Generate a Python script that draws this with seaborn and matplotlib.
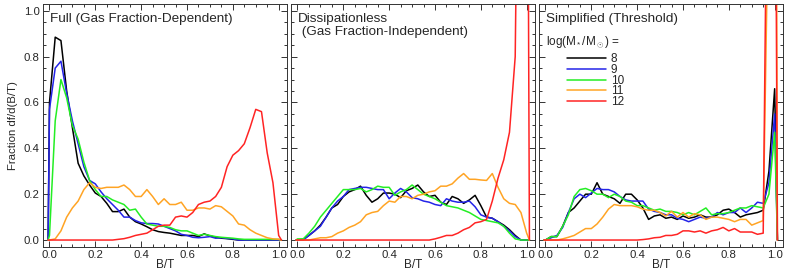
import numpy as np
import pandas as pd
import seaborn as sns
import matplotlib
matplotlib.use("Agg")
import matplotlib.pyplot as plt
from matplotlib.ticker import MultipleLocator, FormatStrFormatter

# B/T bins (0.025 wide); every curve is closed with a zero just outside [0, 1]
bt_bins = np.round(np.arange(41) * 0.025, 3)
bt_lo, bt_hi = -0.006, 1.012

masses = ["8", "9", "10", "11", "12"]
colors = ["black", "#2424e8", "#24ee24", "#ffa424", "#ff2424"]

titles = ["Full (Gas Fraction-Dependent)",
          "Dissipationless\n (Gas Fraction-Independent)",
          "Simplified (Threshold)"]

# Full (gas fraction dependent)
full_8 = [0.6, 0.885, 0.87, 0.65, 0.49, 0.335, 0.28, 0.24, 0.205, 0.19,
          0.16, 0.124, 0.124, 0.135, 0.10, 0.08, 0.07, 0.058, 0.045, 0.037,
          0.033, 0.03, 0.025, 0.02, 0.02, 0.02, 0.015, 0.027, 0.018, 0.012,
          0.008, 0.006, 0.003, 0, 0, 0, 0, 0, 0, 0, 0]
full_9 = [0.57, 0.75, 0.78, 0.64, 0.52, 0.42, 0.32, 0.26, 0.245, 0.21,
          0.18, 0.155, 0.13, 0.10, 0.10, 0.085, 0.075, 0.072, 0.072, 0.07,
          0.06, 0.05, 0.04, 0.025, 0.02, 0.012, 0.01, 0.012, 0.015, 0.008,
          0.01, 0.007, 0.005, 0, 0, 0, 0, 0, 0, 0, 0]
full_10 = [0.02, 0.52, 0.70, 0.62, 0.50, 0.44, 0.34, 0.26, 0.22, 0.19,
           0.19, 0.175, 0.165, 0.155, 0.13, 0.135, 0.10, 0.07, 0.065, 0.06,
           0.06, 0.055, 0.045, 0.04, 0.04, 0.03, 0.02, 0.025, 0.02, 0.015,
           0.012, 0.01, 0.008, 0.005, 0.003, 0.003, 0.003, 0.003, 0.003, 0.003, 0.003]
full_11 = [0.0, 0.005, 0.04, 0.10, 0.14, 0.17, 0.22, 0.25, 0.23, 0.225,
           0.23, 0.23, 0.23, 0.24, 0.22, 0.19, 0.19, 0.22, 0.19, 0.155,
           0.18, 0.155, 0.155, 0.165, 0.13, 0.13, 0.14, 0.14, 0.135, 0.15,
           0.145, 0.125, 0.105, 0.07, 0.065, 0.045, 0.03, 0.02, 0.01, 0.005, 0.003]
full_12 = [0, 0, 0, 0, 0, 0, 0, 0, 0, 0,
           0, 0, 0.003, 0.006, 0.012, 0.02, 0.025, 0.03, 0.045, 0.06,
           0.065, 0.065, 0.10, 0.105, 0.10, 0.12, 0.155, 0.165, 0.17, 0.19,
           0.23, 0.32, 0.37, 0.39, 0.42, 0.49, 0.57, 0.56, 0.38, 0.25, 0.02]

# Dissipationless (gas fraction independent)
diss_8 = [0.0, 0.003, 0.02, 0.04, 0.065, 0.10, 0.14, 0.155, 0.19, 0.21,
          0.22, 0.235, 0.195, 0.165, 0.18, 0.205, 0.205, 0.20, 0.185, 0.215,
          0.225, 0.24, 0.21, 0.19, 0.195, 0.165, 0.155, 0.19, 0.18, 0.16,
          0.175, 0.195, 0.15, 0.10, 0.095, 0.08, 0.065, 0.045, 0.02, 0.0, 0.0]
diss_9 = [0.0, 0.0, 0.02, 0.04, 0.06, 0.10, 0.14, 0.17, 0.19, 0.22,
          0.225, 0.23, 0.23, 0.225, 0.22, 0.22, 0.18, 0.205, 0.225, 0.21,
          0.185, 0.18, 0.17, 0.165, 0.155, 0.15, 0.18, 0.17, 0.165, 0.165,
          0.17, 0.145, 0.11, 0.10, 0.095, 0.08, 0.06, 0.04, 0.015, 0.0, 0.0]
diss_10 = [0.005, 0.005, 0.03, 0.06, 0.10, 0.13, 0.16, 0.19, 0.22, 0.22,
           0.22, 0.225, 0.21, 0.22, 0.235, 0.23, 0.23, 0.195, 0.21, 0.22,
           0.24, 0.22, 0.2, 0.19, 0.18, 0.165, 0.15, 0.145, 0.14, 0.13,
           0.12, 0.105, 0.09, 0.085, 0.08, 0.075, 0.06, 0.03, 0.005, 0.0, 0.0]
diss_11 = [0.0, 0.0, 0.0, 0.005, 0.01, 0.01, 0.015, 0.03, 0.04, 0.055,
           0.065, 0.08, 0.11, 0.12, 0.125, 0.15, 0.17, 0.165, 0.19, 0.19,
           0.18, 0.195, 0.2, 0.21, 0.215, 0.235, 0.235, 0.245, 0.27, 0.29,
           0.265, 0.265, 0.262, 0.26, 0.29, 0.23, 0.18, 0.16, 0.155, 0.12, 0.03]
diss_12 = [0, 0, 0, 0, 0, 0, 0, 0, 0, 0,
           0, 0, 0, 0, 0, 0, 0, 0, 0, 0,
           0, 0, 0, 0, 0.005, 0.012, 0.02, 0.02, 0.03, 0.045,
           0.055, 0.075, 0.08, 0.09, 0.17, 0.27, 0.35, 0.47, 0.8, 3.0, 3.0]

# Simplified (threshold)
simp_8 = [0.0, 0.015, 0.015, 0.06, 0.12, 0.14, 0.17, 0.2, 0.2, 0.25,
          0.2, 0.19, 0.18, 0.16, 0.2, 0.2, 0.175, 0.14, 0.09, 0.105,
          0.11, 0.095, 0.1, 0.09, 0.105, 0.095, 0.1, 0.11, 0.1, 0.1,
          0.11, 0.13, 0.135, 0.12, 0.1, 0.11, 0.115, 0.12, 0.13, 0.3, 0.66]
simp_9 = [0.0, 0.01, 0.02, 0.055, 0.12, 0.18, 0.2, 0.185, 0.205, 0.225,
          0.22, 0.22, 0.21, 0.19, 0.175, 0.17, 0.17, 0.17, 0.135, 0.125,
          0.12, 0.11, 0.11, 0.095, 0.09, 0.08, 0.09, 0.1, 0.095, 0.1,
          0.12, 0.11, 0.12, 0.12, 0.14, 0.12, 0.14, 0.165, 0.16, 0.25, 0.55]
simp_10 = [0.0, 0.015, 0.015, 0.06, 0.11, 0.19, 0.22, 0.225, 0.215, 0.2,
           0.2, 0.185, 0.2, 0.19, 0.17, 0.165, 0.15, 0.15, 0.14, 0.13,
           0.135, 0.125, 0.125, 0.12, 0.11, 0.12, 0.11, 0.125, 0.14, 0.11,
           0.115, 0.115, 0.12, 0.13, 0.14, 0.14, 0.15, 0.145, 0.14, 0.2, 0.47]
simp_11 = [0.0, 0.0, 0.0, 0.005, 0.012, 0.02, 0.035, 0.05, 0.05, 0.07,
           0.1, 0.135, 0.155, 0.15, 0.15, 0.15, 0.145, 0.135, 0.13, 0.13,
           0.12, 0.105, 0.125, 0.1, 0.12, 0.1, 0.115, 0.11, 0.09, 0.1,
           0.1, 0.095, 0.09, 0.08, 0.09, 0.09, 0.065, 0.075, 0.085, 1.6, 4.0]
simp_12 = [0, 0, 0, 0, 0, 0, 0, 0, 0, 0,
           0, 0, 0, 0, 0, 0, 0, 0.002, 0.005, 0.01,
           0.012, 0.02, 0.02, 0.025, 0.04, 0.04, 0.035, 0.04, 0.03, 0.04,
           0.045, 0.055, 0.04, 0.05, 0.035, 0.035, 0.035, 0.025, 0.03, 2.5, 2.5]

panels = [[full_8, full_9, full_10, full_11, full_12],
          [diss_8, diss_9, diss_10, diss_11, diss_12],
          [simp_8, simp_9, simp_10, simp_11, simp_12]]


def long_df(curves):
    parts = []
    for m, vals in zip(masses, curves):
        parts.append(pd.DataFrame({"bt": np.r_[bt_lo, bt_bins, bt_hi],
                                   "frac": np.r_[0.0, vals, 0.0],
                                   "mass": m}))
    return pd.concat(parts, ignore_index=True)


sns.set_theme(style="ticks")
plt.rcParams["font.family"] = ["Liberation Sans", "DejaVu Sans"]
plt.rcParams["mathtext.fontset"] = "custom"
plt.rcParams["mathtext.rm"] = "Liberation Sans"
plt.rcParams["mathtext.it"] = "Liberation Sans"

fig, axes = plt.subplots(1, 3, figsize=(7.89, 2.79), dpi=100, sharey=True)
fig.subplots_adjust(left=0.054, right=0.992, bottom=0.115, top=0.986, wspace=0.016)

for i, ax in enumerate(axes):
    df = long_df(panels[i])
    sns.lineplot(data=df, x="bt", y="frac", hue="mass", hue_order=masses,
                 palette=colors, estimator=None, sort=False, legend=False,
                 linewidth=1.1, ax=ax)
    ax.set_xlim(-0.03, 1.035)
    ax.set_ylim(-0.03, 1.03)
    ax.xaxis.set_major_locator(MultipleLocator(0.2))
    ax.xaxis.set_minor_locator(MultipleLocator(0.05))
    ax.yaxis.set_major_locator(MultipleLocator(0.2))
    ax.yaxis.set_minor_locator(MultipleLocator(0.05))
    ax.xaxis.set_major_formatter(FormatStrFormatter("%.1f"))
    ax.yaxis.set_major_formatter(FormatStrFormatter("%.1f"))
    ax.tick_params(which="both", direction="in", top=True, right=True,
                   width=0.7, color="#333333", labelsize=8.2, pad=2)
    ax.tick_params(which="major", length=4)
    ax.tick_params(which="minor", length=2.2)
    for s in ax.spines.values():
        s.set_linewidth(0.7)
        s.set_color("#333333")
    ax.set_xlabel("B/T", fontsize=8.5, labelpad=-0.5)
    ax.set_ylabel("")
    ax.text(0.03, 0.962, titles[i], transform=ax.transAxes, ha="left", va="top",
            fontsize=9.7, linespacing=1.15)
    if i > 0:
        ax.tick_params(labelleft=False)

axes[0].set_ylabel("Fraction df/d(B/T)", fontsize=8.2, labelpad=4)

ax3 = axes[2]
ax3.text(0.03, 0.843, r"log(M$_*$/M$_\odot$) =", transform=ax3.transAxes,
         ha="left", va="center", fontsize=8.5)
handles = ax3.get_lines()[:5]
ax3.legend(handles, masses, loc="upper left", bbox_to_anchor=(0.115, 0.796),
           frameon=False, fontsize=8.5, handlelength=3.3, handletextpad=0.45,
           labelspacing=-0.12, borderpad=0, borderaxespad=0)

fig.savefig("out.png", dpi=100)
